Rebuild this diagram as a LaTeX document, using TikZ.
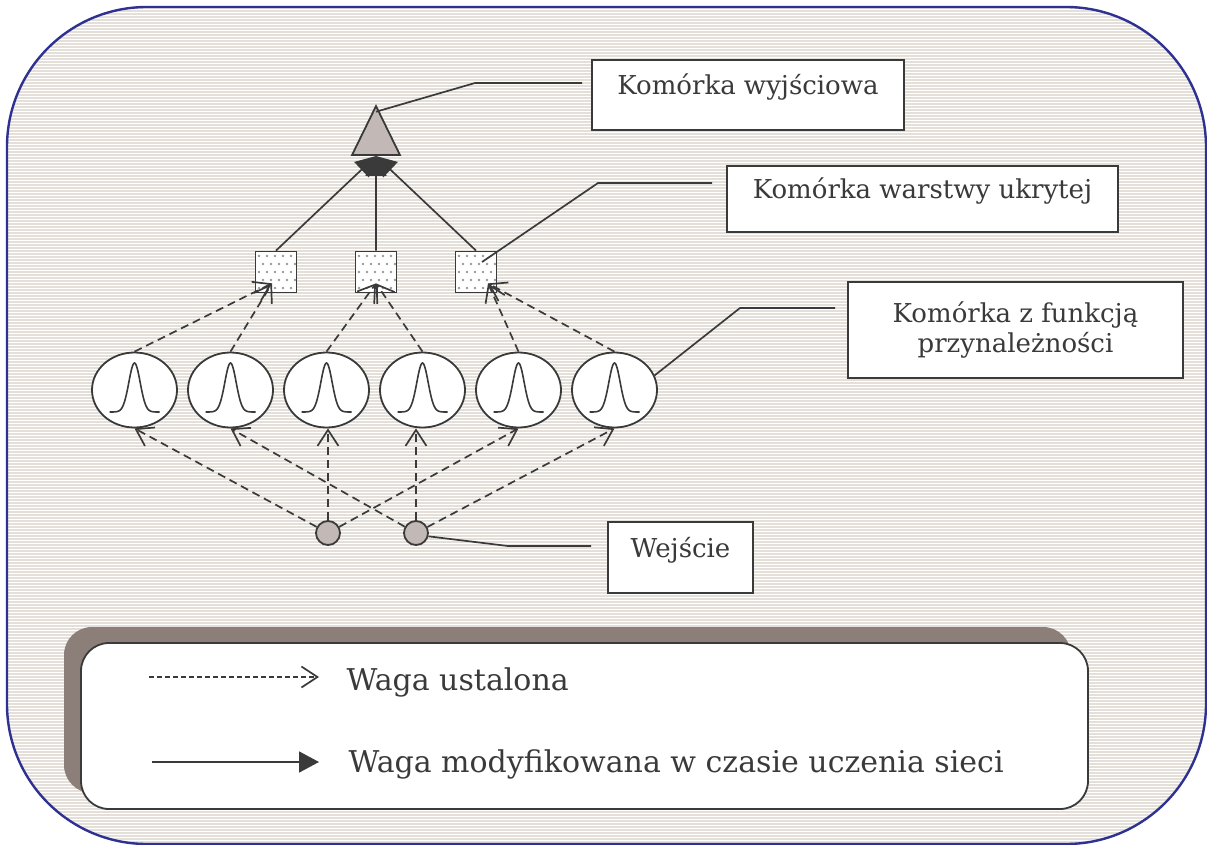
\documentclass[tikz,border=0pt]{standalone}
\usepackage{fontspec}
\setmainfont{DejaVu Serif}
\usetikzlibrary{positioning, arrows.meta, calc, shapes.geometric, shadows}
\definecolor{colorline}{HTML}{3A3A3A}
\definecolor{colorframe}{HTML}{2E3192}
\definecolor{colorstripe}{HTML}{E4DFD9}
\definecolor{colorcell}{HTML}{C2B9B6}
\definecolor{colorshadow}{HTML}{8C7F7A}

\begin{document}
\begin{tikzpicture}[
    x=1pt, y=1pt,
    % spacing between the membership cells
    node distance=9.2pt,
    % output cell (triangle)
    outcell/.style={
        isosceles triangle,
        isosceles triangle stretches,
        shape border rotate=90,
        draw=colorline,
        fill=colorcell,
        line width=1.8pt,
        minimum width=48pt,
        minimum height=49pt,
        inner sep=0pt
    },
    % hidden layer cell (dotted square)
    hidcell/.style={
        rectangle,
        draw=colorline,
        fill=white,
        line width=1.8pt,
        minimum size=41pt,
        inner sep=0pt,
        path picture={
            \foreach \i in {0,...,4}
                \foreach \j in {0,...,4}
                    \fill[gray!80, shift={(path picture bounding box.center)}]
                        ({-17+8*\j+4*mod(\i,2)}, {-16+8*\i}) circle (1.4pt);
        }
    },
    % membership function cell (ellipse with a bell curve)
    mfcell/.style={
        ellipse,
        draw=colorline,
        fill=white,
        line width=1.8pt,
        minimum width=85pt,
        minimum height=75pt,
        inner sep=0pt,
        path picture={
            \draw[colorline, line width=1.6pt, shift={(path picture bounding box.center)}]
                plot[domain=-25:25, samples=61, smooth] (\x, {-22+49*exp(-(\x*\x)/64)});
        }
    },
    % input cell
    incell/.style={
        circle,
        draw=colorline,
        fill=colorcell,
        line width=1.8pt,
        minimum size=24pt,
        inner sep=0pt
    },
    % label boxes
    textbox/.style={
        rectangle,
        draw=colorline,
        fill=white,
        line width=1.8pt,
        inner sep=0pt,
        text=colorline,
        font=\fontsize{26}{30}\selectfont
    },
    % one-line label box, #1 = half height
    labelbox/.style={
        textbox,
        text height=#1,
        text depth=#1
    },
    % arrows
    fixedarrow/.style={
        colorline,
        line width=1.7pt,
        dash pattern=on 8pt off 5pt,
        -{Straight Barb[length=16pt, width=21pt, line width=1.7pt]}
    },
    trainedarrow/.style={
        colorline,
        line width=1.7pt,
        -{Triangle[length=20pt, width=21pt]}
    },
    callout/.style={
        colorline,
        line width=1.7pt
    }
]

\useasboundingbox (0,0) rectangle (1207,-845);

% ==============================
% Background
% ==============================
\begin{scope}
    \clip[rounded corners=140pt] (7,-7) rectangle (1206,-844);
    \fill[white] (7,-7) rectangle (1206,-844);
    \foreach \y in {8,11,...,844}
        \draw[colorstripe, line width=1.4pt] (7,-\y) -- (1206,-\y);
\end{scope}
\draw[colorframe, line width=2.4pt, rounded corners=140pt] (7,-7) rectangle (1206,-844);

% ==============================
% Network
% ==============================
\node[outcell, anchor=south] (out) at (376,-156) {};

\node[hidcell] (h1) at (276,-272) {};
\node[hidcell, right=57.2pt of h1] (h2) {};
\node[hidcell, right=57.2pt of h2] (h3) {};

\node[mfcell] (m1) at (134.5,-390) {};
\node[mfcell, right=of m1] (m2) {};
\node[mfcell, right=of m2] (m3) {};
\node[mfcell, right=of m3] (m4) {};
\node[mfcell, right=of m4] (m5) {};
\node[mfcell, right=of m5] (m6) {};

\node[incell] (in1) at (328,-533) {};
\node[incell] (in2) at (416,-533) {};

% ==============================
% Labels
% ==============================
\node[labelbox=35pt, minimum width=312pt] (outlbl) at (748,-95) {Komórka wyjściowa};
\node[labelbox=33pt, minimum width=391pt] (hidlbl) at (922.5,-199) {Komórka warstwy ukrytej};
\node[textbox, minimum width=335pt, minimum height=96pt, align=center,
      font=\fontsize{26}{30}\selectfont] (mflbl) at (1015.5,-330)
      {Komórka z funkcją\\przynależności};
\node[labelbox=35.5pt, minimum width=145pt] (inlbl) at (680.5,-557.5) {Wejście};

% ==============================
% Arrows
% ==============================
\draw[fixedarrow] (in1) -- (m1.south);
\draw[fixedarrow] (in1) -- (in1 |- m3.south);
\draw[fixedarrow] (in1) -- (m5.south);
\draw[fixedarrow] (in2) -- (m2.south);
\draw[fixedarrow] (in2) -- (in2 |- m4.south);
\draw[fixedarrow] (in2) -- (m6.south);

\draw[fixedarrow] (m1.north) -- ([xshift=-4pt, yshift=10pt]h1.south);
\draw[fixedarrow] (m2.north) -- ([xshift=-4pt, yshift=10pt]h1.south);
\draw[fixedarrow] (m3.north) -- ([yshift=10pt]h2.south);
\draw[fixedarrow] (m4.north) -- ([yshift=10pt]h2.south);
\draw[fixedarrow] (m5.north) -- ([xshift=12pt, yshift=10pt]h3.south);
\draw[fixedarrow] (m6.north) -- ([xshift=12pt, yshift=10pt]h3.south);

\draw[trainedarrow] (h1.north) -- (out.south);
\draw[trainedarrow] (h2.north) -- (out.south);
\draw[trainedarrow] (h3.north) -- (out.south);

% callout lines to the labels
\coordinate (kout) at (475,-83);
\coordinate (khid) at (598,-183);
\coordinate (kmf)  at (740,-308);
\coordinate (kin)  at (508,-546);
\draw[callout, shorten >=9pt] ([yshift=-8pt]out.apex) -- (kout) -- (kout -| outlbl.west);
\draw[callout, shorten >=14pt] ([xshift=6pt, yshift=10pt]h3.center) -- (khid) -- (khid -| hidlbl.west);
\draw[callout, shorten >=12pt] (m6.20) -- (kmf) -- (kmf -| mflbl.west);
\draw[callout, shorten >=16pt] (in2.-15) -- (kin) -- (kin -| inlbl.west);

% ==============================
% Legend
% ==============================
\node[rectangle, rounded corners=28pt, draw=colorline, fill=white, line width=1.8pt,
      minimum width=1007pt, minimum height=166pt,
      copy shadow={shadow xshift=-17pt, shadow yshift=16pt, draw=none, fill=colorshadow}]
      (legend) at (584.5,-726) {};

\coordinate (lgfixA) at (149,-677);
\coordinate (lgfixB) at (319,-677);
\coordinate (lgtrA) at (152,-762);
\coordinate (lgtrB) at (319,-762);
\draw[fixedarrow, line width=1.4pt, dash pattern=on 5pt off 3pt] (lgfixA) -- (lgfixB);
\draw[trainedarrow] (lgtrA) -- (lgtrB);
\node[anchor=base west, text=colorline, font=\fontsize{30}{34}\selectfont] (lgfix) at (343,-690) {Waga ustalona};
\node[anchor=base west, text=colorline, font=\fontsize{30}{34}\selectfont] (lgtr) at (345,-772) {Waga modyfikowana w czasie uczenia sieci};

\end{tikzpicture}
\end{document}
